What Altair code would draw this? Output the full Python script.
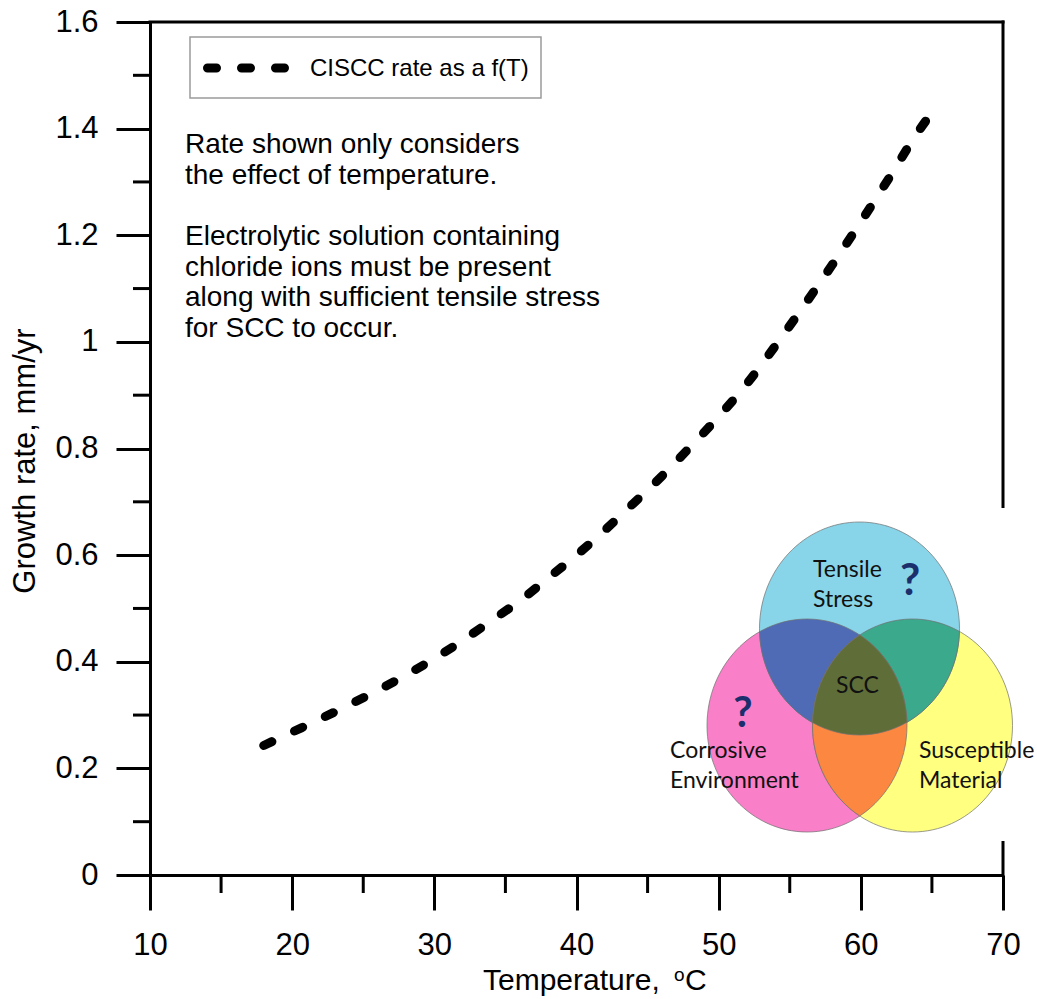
import math
import altair as alt
import pandas as pd

# ---------------- data ----------------
temperature = [18, 20, 22, 24, 26, 28, 30, 32, 34, 36, 38, 40, 42, 44, 46, 48, 50,
               52, 54, 56, 58, 60, 62, 64, 65]
growth_rate = [0.243, 0.268, 0.293, 0.319, 0.346, 0.375, 0.406, 0.440, 0.477, 0.514,
               0.557, 0.600, 0.647, 0.697, 0.748, 0.803, 0.860, 0.922, 0.993, 1.068,
               1.145, 1.225, 1.308, 1.393, 1.430]
x_major = [10, 20, 30, 40, 50, 60, 70]
x_minor = [15, 25, 35, 45, 55, 65]
y_major = [0, 0.2, 0.4, 0.6, 0.8, 1.0, 1.2, 1.4, 1.6]
y_minor = [0.1, 0.3, 0.5, 0.7, 0.9, 1.1, 1.3, 1.5]

legend_label = "CISCC rate as a f(T)"
note_lines_1 = ["Rate shown only considers", "the effect of temperature."]
note_lines_2 = ["Electrolytic solution containing", "chloride ions must be present",
                "along with sufficient tensile stress", "for SCC to occur."]

# ---------------- layout ----------------
W, H = 853, 853
FONT = "Liberation Sans"
VFONT = "Lato"

curve_df = pd.DataFrame({"T": temperature, "rate": growth_rate})
xs = alt.Scale(domain=[10, 70], nice=False, zero=False)
ys = alt.Scale(domain=[0, 1.6], nice=False, zero=False)
one = pd.DataFrame({"a": [0]})

x_axis = alt.Axis(
    values=x_major, tickSize=35, labelPadding=20, title=None, grid=False,
    labelFontSize=31, labelFont=FONT, labelColor="black",
    domainColor="black", domainWidth=3, tickColor="black", tickWidth=3,
    labelFlush=False)
y_axis = alt.Axis(
    values=y_major, tickSize=34, labelPadding=18, grid=False, format="~g",
    labelFontSize=31, labelFont=FONT, labelColor="black",
    domainColor="black", domainWidth=3, tickColor="black", tickWidth=3,
    title="Growth rate, mm/yr", titleFont=FONT, titleFontSize=31,
    titleFontWeight="normal", titleColor="black", titleAngle=270,
    titleX=-125, titleY=H / 2 + 12, titleAlign="center", titleBaseline="middle",
    labelFlush=False)

curve = alt.Chart(curve_df).mark_line(
    color="black", strokeWidth=9, strokeDash=[9, 25], strokeCap="round",
    interpolate="monotone"
).encode(
    x=alt.X("T:Q", scale=xs, axis=x_axis),
    y=alt.Y("rate:Q", scale=ys, axis=y_axis),
)

ymin = alt.Chart(pd.DataFrame({"rate": y_minor})).mark_rule(
    color="black", strokeWidth=3).encode(
    y=alt.Y("rate:Q", scale=ys, axis=y_axis), x=alt.value(-17), x2=alt.value(0))
xmin = alt.Chart(pd.DataFrame({"T": x_minor})).mark_rule(
    color="black", strokeWidth=3).encode(
    x=alt.X("T:Q", scale=xs, axis=x_axis), y=alt.value(H), y2=alt.value(H + 18))

top_line = alt.Chart(one).mark_rule(color="black", strokeWidth=3, strokeCap="square").encode(
    x=alt.value(0), x2=alt.value(W), y=alt.value(0))
right_line = alt.Chart(one).mark_rule(color="black", strokeWidth=3, strokeCap="square").encode(
    x=alt.value(W), y=alt.value(0), y2=alt.value(H))

# legend box
leg_box = alt.Chart(one).mark_rect(fill="white", stroke="#9a9a9a", strokeWidth=1.5).encode(
    x=alt.value(40), x2=alt.value(391), y=alt.value(15), y2=alt.value(76))
leg_line = alt.Chart(one).mark_rule(color="black", strokeWidth=9, strokeDash=[9, 25],
                                    strokeCap="round").encode(
    x=alt.value(57.5), x2=alt.value(135), y=alt.value(46))
leg_text = alt.Chart(one).mark_text(
    text=legend_label, font=FONT, fontSize=24, align="left", baseline="middle",
    color="black").encode(x=alt.value(160), y=alt.value(47))

note1 = alt.Chart(one).mark_text(
    text=note_lines_1, font=FONT, fontSize=28, align="left", baseline="alphabetic",
    lineHeight=30.5, color="black").encode(x=alt.value(35), y=alt.value(131))
note2 = alt.Chart(one).mark_text(
    text=note_lines_2, font=FONT, fontSize=28, align="left", baseline="alphabetic",
    lineHeight=30.5, color="black").encode(x=alt.value(35), y=alt.value(223))

# x-axis title with superscript
xt1 = alt.Chart(one).mark_text(text="Temperature,", font=FONT, fontSize=30, align="left",
                               baseline="alphabetic", color="black").encode(
    x=alt.value(333), y=alt.value(968))
xt2 = alt.Chart(one).mark_text(text="o", font=FONT, fontSize=19, align="left",
                               baseline="alphabetic", color="black").encode(
    x=alt.value(524), y=alt.value(959))
xt3 = alt.Chart(one).mark_text(text="C", font=FONT, fontSize=30, align="left",
                               baseline="alphabetic", color="black").encode(
    x=alt.value(535), y=alt.value(968))

# ---------------- Venn inset (decoration) ----------------
white_bg = alt.Chart(one).mark_rect(fill="white").encode(
    x=alt.value(505), x2=alt.value(887), y=alt.value(486), y2=alt.value(819))

K = 1.065
R = 100.0
RX, RY = 100.0, 100.0 * K
cC = (709.5, 606.5 / K)
cP = (657.0, 703.5 / K)
cY = (762.5, 703.5 / K)


def fmt(p):
    return f"{p[0]:.2f},{p[1] * K:.2f}"


def inter(a, b):
    dx, dy = b[0] - a[0], b[1] - a[1]
    d = math.hypot(dx, dy)
    h = math.sqrt(R * R - (d / 2) ** 2)
    mx, my = (a[0] + b[0]) / 2, (a[1] + b[1]) / 2
    ux, uy = -dy / d, dx / d
    return [(mx + h * ux, my + h * uy), (mx - h * ux, my - h * uy)]


def inside(p, c):
    return math.hypot(p[0] - c[0], p[1] - c[1]) < R


def arc(c, p, q):
    cr = (p[0] - c[0]) * (q[1] - c[1]) - (p[1] - c[1]) * (q[0] - c[0])
    s = 1 if cr > 0 else 0
    return f" A{RX:.2f},{RY:.2f} 0 0 {s} {fmt(q)}"


def circle_path(c):
    a = (c[0] - R, c[1])
    b = (c[0] + R, c[1])
    return (f"M{fmt(a)} A{RX:.2f},{RY:.2f} 0 1 0 {fmt(b)}"
            f" A{RX:.2f},{RY:.2f} 0 1 0 {fmt(a)} Z")


def lens_path(a, b):
    i1, i2 = inter(a, b)
    return f"M{fmt(i1)}" + arc(a, i1, i2) + arc(b, i2, i1) + " Z"


def pick(a, b, third):
    pts = inter(a, b)
    return pts[0] if inside(pts[0], third) else pts[1]


vPY = pick(cP, cY, cC)
vCY = pick(cC, cY, cP)
vCP = pick(cC, cP, cY)
center_path = f"M{fmt(vPY)}" + arc(cY, vPY, vCY) + arc(cC, vCY, vCP) + arc(cP, vCP, vPY) + " Z"

regions = [
    (circle_path(cP), "#f980c8"),
    (circle_path(cY), "#ffff80"),
    (circle_path(cC), "#88d4e8"),
    (lens_path(cC, cP), "#4f6bb5"),
    (lens_path(cC, cY), "#3aa98c"),
    (lens_path(cP, cY), "#fb8741"),
    (center_path, "#5f6e38"),
]
venn_layers = []
for path, col in regions:
    venn_layers.append(
        alt.Chart(one).mark_point(
            shape=path, size=4, filled=True, fill=col, fillOpacity=1, opacity=1,
            stroke="#6f6f6f", strokeWidth=1, strokeOpacity=0.7
        ).encode(x=alt.value(0), y=alt.value(0))
    )


def vtext(lines, x, y, size=23, color="#111111", weight="normal", align="left"):
    return alt.Chart(one).mark_text(
        text=lines, font=VFONT, fontSize=size, fontWeight=weight, align=align,
        baseline="alphabetic", lineHeight=30, color=color
    ).encode(x=alt.value(x), y=alt.value(y))


venn_text = [
    vtext(["Tensile", "Stress"], 663, 555),
    vtext("SCC", 686, 671),
    vtext(["Corrosive", "Environment"], 520, 736),
    vtext(["Susceptible", "Material"], 769, 736),
    vtext("?", 760, 573, size=44, color="#1b2f6c", weight="bold", align="center"),
    vtext("?", 593, 705, size=42, color="#1b2f6c", weight="bold", align="center"),
]

chart = alt.layer(
    curve, top_line, right_line, ymin, xmin, leg_box, leg_line, leg_text, note1, note2,
    xt1, xt2, xt3, white_bg, *venn_layers, *venn_text
).properties(
    width=W, height=H,
    autosize=alt.AutoSizeParams(type="none"),
    padding={"left": 150, "top": 22, "right": 34, "bottom": 124},
).configure_view(stroke=None).configure(background="white")

chart.save("out.html", embed_options={"renderer": "svg", "actions": False})
